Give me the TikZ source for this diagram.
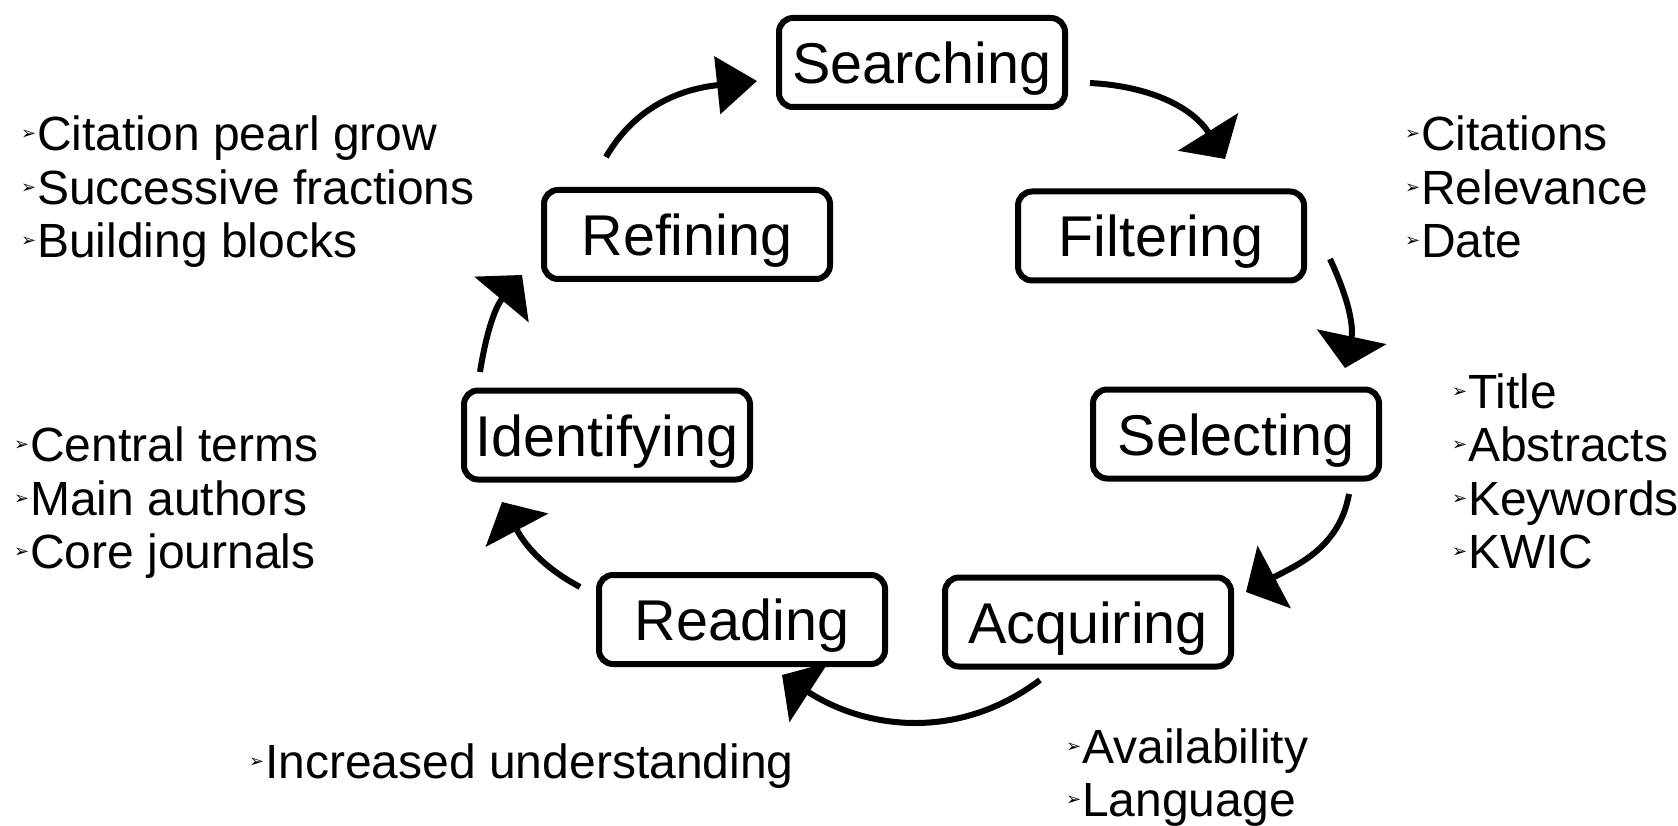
\documentclass[tikz,border=0pt]{standalone}
\usepackage{fontspec}
\setmainfont{Liberation Sans}
\newfontfamily\dingfont{DejaVu Sans}
\usetikzlibrary{arrows.meta}

\gdef\bul{\makebox[16pt][l]{\raisebox{11pt}{\fontsize{18}{18}\selectfont\dingfont ➢}}}

\begin{document}
\begin{tikzpicture}[x=1pt, y=1pt,
  stage/.style={draw, line width=6pt, rounded corners=14pt, minimum width=286pt, minimum height=89pt,
    inner sep=0pt, text height=42pt, text depth=0pt, font=\fontsize{57.5}{69}\selectfont},
  items/.style={align=left, anchor=base west, inner sep=0pt, font=\fontsize{48}{53.5}\selectfont},
  flow/.style={line width=6pt, -{Triangle[length=32pt,width=70pt]}}]

\useasboundingbox (0,0) rectangle (1678,-826);

\node[stage] (searching) at (922,-62.5) {Searching};
\node[stage] (filtering) at (1161,-236) {Filtering};
\node[stage] (selecting) at (1236,-434) {Selecting};
\node[stage] (acquiring) at (1088,-622) {Acquiring};
\node[stage] (reading) at (742,-619.5) {Reading};
\node[stage] (identifying) at (607,-435) {Identifying};
\node[stage] (refining) at (687,-234.5) {Refining};

\node[items] (refinenotes) at (21,-258) {\bul Citation pearl grow\\\bul Successive fractions\\\bul Building blocks};
\node[items] (filternotes) at (1405,-258) {\bul Citations\\\bul Relevance\\\bul Date};
\node[items] (selectnotes) at (1452,-568.5) {\bul Title\\\bul Abstracts\\\bul Keywords\\\bul KWIC};
\node[items] (identifynotes) at (14,-568.5) {\bul Central terms\\\bul Main authors\\\bul Core journals};
\node[items] (readnotes) at (249,-778) {\bul Increased understanding};
\node[items] (acquirenotes) at (1066,-816.5) {\bul Availability\\\bul Language};

\draw[flow, -{Triangle[length=40pt,width=57pt]}] ([xshift=-81pt,yshift=30pt]refining.north)
  to[out=60,in=186] ([xshift=-19pt,yshift=-18.5pt]searching.west);
\draw[flow] ([xshift=22pt,yshift=-20.5pt]searching.east)
  to[out=-3,in=122] ([xshift=64pt,yshift=29.5pt]filtering.north);
\draw[flow] ([xshift=23pt,yshift=-23pt]filtering.east)
  to[out=-65,in=78] ([xshift=109pt,yshift=18.5pt]selecting.north);
\draw[flow] ([xshift=113pt,yshift=-12.5pt]selecting.south)
  to[out=-100,in=28] ([xshift=12pt,yshift=30pt]acquiring.east);
\draw[flow] ([xshift=-48pt,yshift=-10.5pt]acquiring.south)
  to[out=-143,in=-33] ([xshift=40pt,yshift=-8pt]reading.south);
\draw[flow] ([xshift=-16pt,yshift=-15pt]reading.north west)
  to[out=152,in=-62] ([xshift=-105pt,yshift=-19.5pt]identifying.south);
\draw[flow] ([xshift=-127pt,yshift=15.5pt]identifying.north)
  to[out=81,in=230] ([xshift=-19pt,yshift=7pt]refining.south west);

\end{tikzpicture}
\end{document}
